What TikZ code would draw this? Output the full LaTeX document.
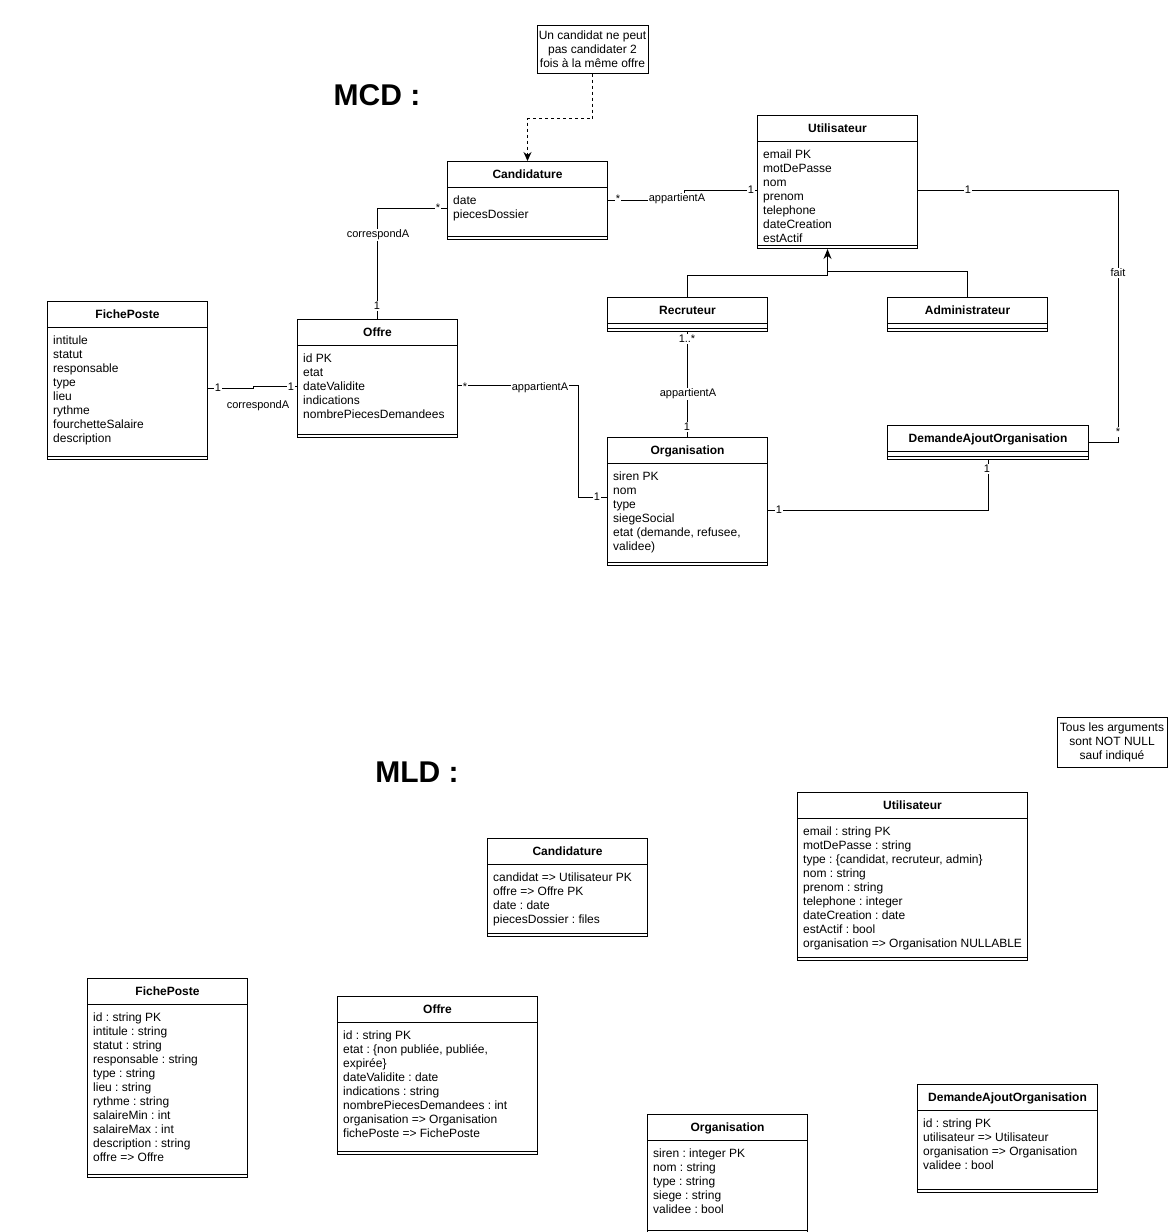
\documentclass[tikz,border=0pt]{standalone}
\usepackage{fontspec}
\setmainfont{Liberation Sans}
\usetikzlibrary{arrows.meta}
\frenchspacing

\tikzset{
    classbox/.style={draw, line width=1pt, inner sep=0pt, fill=white},
    classline/.style={line width=1pt},
    classtitle/.style={font=\fontsize{12}{14}\selectfont\bfseries, inner sep=0pt},
    classattr/.style={font=\fontsize{12}{14}\selectfont, align=left, inner sep=0pt},
    notebox/.style={draw, line width=1pt, inner sep=0pt, align=center, font=\fontsize{12}{14}\selectfont},
    assoc/.style={line width=1pt},
    inherit/.style={line width=1pt, -{Stealth[length=10pt, width=8pt]}},
    noteline/.style={line width=1pt, dash pattern=on 3pt off 3pt, -{Stealth[length=9pt, width=8pt]}},
    edgelabel/.style={font=\fontsize{11}{13}\selectfont, fill=white, inner sep=1pt},
    sectiontitle/.style={font=\fontsize{30}{36}\selectfont\bfseries, inner sep=0pt}
}

% name, x, y, width, height, title, attributes
\newcommand{\umlclass}[7]{%
    \node[classbox, minimum width=#4pt, minimum height=#5pt, anchor=north west] (#1) at (#2,#3) {};
    \node[classtitle, anchor=base] (#1-title) at ([yshift=-17.5pt]#1.north) {#6};
    \draw[classline] ([yshift=-26pt]#1.north west) -- ([yshift=-26pt]#1.north east);
    \draw[classline] ([yshift=4pt]#1.south west) -- ([yshift=4pt]#1.south east);
    \node[classattr, anchor=north west] (#1-attrs) at ([xshift=6pt, yshift=-35pt]#1.north west) {#7};
}

\begin{document}
\begin{tikzpicture}[x=1pt, y=-1pt]
    \useasboundingbox (0,0) rectangle (1168,1232);
    \clip (0,0) rectangle (1168,1232);
    \fill[white] (0,0) rectangle (1168,1232);

    % MCD
    \node[sectiontitle] (titleMCD) at (377,95) {MCD :};
    \node[notebox, minimum width=111pt, minimum height=48pt] (noteCand) at (592.5,49) {Un candidat ne peut\\pas candidater 2\\fois à la même offre};

    \umlclass{cand}{447}{161}{160}{78}{Candidature}{date\\piecesDossier}
    \umlclass{util}{757}{115}{160}{133}{Utilisateur}{email PK\\motDePasse\\nom\\prenom\\telephone\\dateCreation\\estActif}
    \umlclass{fiche}{47}{301}{160}{158}{FichePoste}{intitule\\statut\\responsable\\type\\lieu\\rythme\\fourchetteSalaire\\description}
    \umlclass{offre}{297}{319}{160}{118}{Offre}{id PK\\etat\\dateValidite\\indications\\nombrePiecesDemandees}
    \umlclass{recr}{607}{297}{160}{34}{Recruteur}{}
    \umlclass{admin}{887}{297}{160}{34}{Administrateur}{}
    \umlclass{org}{607}{437}{160}{128}{Organisation}{siren PK\\nom\\type\\siegeSocial\\etat (demande, refusee,\\validee)}
    \umlclass{dem}{887}{425}{201}{34}{DemandeAjoutOrganisation}{}

    \draw[noteline] (noteCand.south) -- ++(0,45) -| (cand.north);
    \draw[assoc] (cand.east) -- ++(76,0) |- ([yshift=-8.5pt]util.west);
    \draw[assoc] ([yshift=-8pt]cand.west) -| (offre.north);
    \draw[assoc] ([yshift=-8pt]fiche.east) -- ++(45,0) |- ([yshift=-8pt]offre.west);
    \draw[assoc] ([yshift=-7pt]offre.east) -- ++(120,0) |- ([yshift=4.5pt]org.west);
    \draw[assoc] (recr.south) -- (org.north);
    \draw[inherit] (recr.north) -- ++(0,-22) -| ([xshift=-10pt]util.south);
    \draw[assoc] (admin.north) -- ++(0,-26) -| ([xshift=-10pt, yshift=-23pt]util.south);
    \draw[assoc] ([yshift=-8.5pt]util.east) -- ++(200,0) |- (dem.east);
    \draw[assoc] ([yshift=-9pt]org.east) -| (dem.south);

    % labels on the links
    \node[edgelabel] (multCandU) at (618,198.5) {*};
    \node[edgelabel] (lblCandU) at (677,199) {appartientA};
    \node[edgelabel] (multUtilC) at (751,190) {1};
    \node[edgelabel] (multCandO) at (438,208) {*};
    \node[edgelabel] (lblCandO) at (378,235) {correspondA};
    \node[edgelabel] (multOffreC) at (377,306) {1};
    \node[edgelabel] (multFicheO) at (218,388) {1};
    \node[edgelabel] (multOffreF) at (291,387) {1};
    \node[edgelabel] (lblFicheO) at (258,406) {correspondA};
    \node[edgelabel] (multOffreO) at (465,386.5) {*};
    \node[edgelabel] (lblOffreO) at (540,388) {appartientA};
    \node[edgelabel] (multOrgO) at (597,497) {1};
    \node[edgelabel] (multRecrO) at (687,339) {1..*};
    \node[edgelabel] (lblRecrO) at (688,394) {appartientA};
    \node[edgelabel] (multOrgR) at (687,427) {1};
    \node[edgelabel] (multUtilD) at (968,190) {1};
    \node[edgelabel] (lblUtilD) at (1118,273) {fait};
    \node[edgelabel] (multDemU) at (1118,432) {*};
    \node[edgelabel] (multOrgD) at (779,510) {1};
    \node[edgelabel] (multDemO) at (987,469) {1};

    % MLD
    \node[sectiontitle] (titleMLD) at (417,772) {MLD :};
    \node[notebox, minimum width=110pt, minimum height=50pt] (noteNull) at (1112,742) {Tous les arguments\\sont NOT NULL\\sauf indiqué};

    \umlclass{candL}{487}{838}{160}{98}{Candidature}{candidat => Utilisateur PK\\offre => Offre PK\\date : date\\piecesDossier : files}
    \umlclass{utilL}{797}{792}{230}{168}{Utilisateur}{email : string PK\\motDePasse : string\\type : \{candidat, recruteur, admin\}\\nom : string\\prenom : string\\telephone : integer\\dateCreation : date\\estActif : bool\\organisation => Organisation NULLABLE}
    \umlclass{ficheL}{87}{978}{160}{199}{FichePoste}{id : string PK\\intitule : string\\statut : string\\responsable : string\\type : string\\lieu : string\\rythme : string\\salaireMin : int\\salaireMax : int\\description : string\\offre => Offre}
    \umlclass{offreL}{337}{996}{200}{158}{Offre}{id : string PK\\etat : \{non publiée, publiée,\\expirée\}\\dateValidite : date\\indications : string\\nombrePiecesDemandees : int\\organisation => Organisation\\fichePoste => FichePoste}
    \umlclass{orgL}{647}{1114}{160}{119}{Organisation}{siren : integer PK\\nom : string\\type : string\\siege : string\\validee : bool}
    \umlclass{demL}{917}{1084}{180}{108}{DemandeAjoutOrganisation}{id : string PK\\utilisateur => Utilisateur\\organisation => Organisation\\validee : bool}
\end{tikzpicture}
\end{document}
